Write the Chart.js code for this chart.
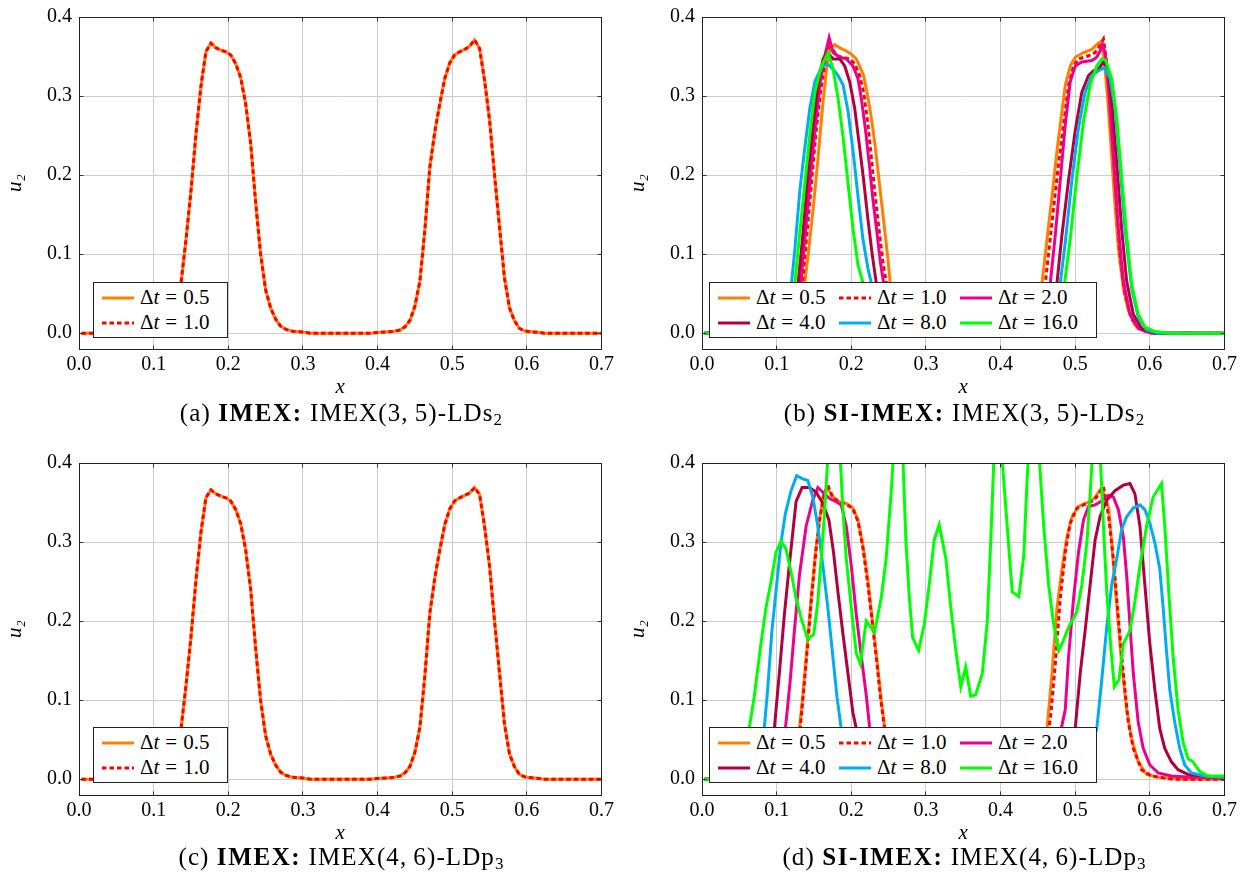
<!DOCTYPE html>
<html>
<head>
<meta charset="utf-8">
<script src="https://cdn.jsdelivr.net/npm/chart.js@4.4.1/dist/chart.umd.min.js"></script>
<style>
  html, body { margin: 0; padding: 0; background: #fff; }
  body { width: 1257px; height: 888px; position: relative; overflow: hidden; font-family: "Liberation Serif", "DejaVu Serif", serif; color: #000; }
  .panel { position: absolute; width: 620px; height: 400px; }
  .panel canvas { position: absolute; left: 0; top: 0; }
  .legend { position: absolute; background: #fff; border: 1px solid #222; padding: 2px 10px 2px 8px; display: grid; row-gap: 0; column-gap: 5px; }
  .entry { display: flex; align-items: center; height: 25px; }
  .entry svg { width: 32px; height: 6px; flex: none; }
  .entry span { margin-left: 6px; font-size: 21px; white-space: nowrap; }
  .entry .eq { margin: 0 6px; }
  .caption { position: absolute; width: 525px; text-align: center; font-size: 25px; letter-spacing: 1.1px; white-space: nowrap; line-height: 30px; }
  .caption b { letter-spacing: 1.6px; }
  .caption sub { font-size: 17px; vertical-align: -4px; line-height: 0; }
</style>
</head>
<body>
<div class="panel" id="pa" style="left:0px;top:0px"><canvas id="ca" width="620" height="400"></canvas></div>
<div class="panel" id="pb" style="left:623px;top:0px"><canvas id="cb" width="620" height="400"></canvas></div>
<div class="panel" id="pc" style="left:0px;top:446px"><canvas id="cc" width="620" height="400"></canvas></div>
<div class="panel" id="pd" style="left:623px;top:446px"><canvas id="cd" width="620" height="400"></canvas></div>

<div class="caption" style="left:79px;top:398px">(a) <b>IMEX:</b> IMEX(3,&thinsp;5)-LDs<sub>2</sub></div>
<div class="caption" style="left:702px;top:398px">(b) <b>SI-IMEX:</b> IMEX(3,&thinsp;5)-LDs<sub>2</sub></div>
<div class="caption" style="left:79px;top:842px">(c) <b>IMEX:</b> IMEX(4,&thinsp;6)-LDp<sub>3</sub></div>
<div class="caption" style="left:702px;top:842px">(d) <b>SI-IMEX:</b> IMEX(4,&thinsp;6)-LDp<sub>3</sub></div>

<script>
// ---------- tick values ----------
const xTickValues = [0, 0.1, 0.2, 0.3, 0.4, 0.5, 0.6, 0.7];
const yTickValues = [0, 0.1, 0.2, 0.3, 0.4];

// ---------- (a) IMEX, IMEX(3,5)-LDs2 : [x, u2] ----------
const a_dt05 = [[0.0033,0],[0.09,0],[0.1033,0.001],[0.11,0.002],[0.1167,0.006],[0.1233,0.015],[0.13,0.035],[0.1367,0.064],[0.1433,0.118],[0.15,0.18],[0.1567,0.252],[0.1633,0.312],[0.17,0.356],[0.1767,0.367],[0.1833,0.361],[0.19,0.358],[0.1967,0.356],[0.2033,0.352],[0.21,0.341],[0.2167,0.323],[0.2233,0.29],[0.23,0.24],[0.2367,0.165],[0.2433,0.10],[0.25,0.055],[0.2567,0.032],[0.2633,0.018],[0.27,0.009],[0.2767,0.005],[0.2833,0.003],[0.29,0.002],[0.3,0.0015],[0.31,0],[0.39,0],[0.4,0.001],[0.42,0.002],[0.43,0.004],[0.4367,0.008],[0.4433,0.016],[0.45,0.034],[0.4567,0.066],[0.4633,0.13],[0.47,0.21],[0.4767,0.255],[0.4833,0.29],[0.49,0.322],[0.4967,0.342],[0.5033,0.352],[0.51,0.356],[0.5167,0.359],[0.5233,0.363],[0.53,0.371],[0.5367,0.36],[0.5433,0.32],[0.55,0.27],[0.5567,0.2],[0.5633,0.135],[0.57,0.07],[0.5767,0.032],[0.5833,0.016],[0.59,0.006],[0.5967,0.003],[0.6033,0.002],[0.6167,0.001],[0.6233,0],[0.7033,0]];
const a_dt10 = [[0.0033,0],[0.09,0],[0.1033,0.001],[0.11,0.002],[0.1167,0.006],[0.1233,0.015],[0.13,0.035],[0.1367,0.064],[0.1433,0.118],[0.15,0.18],[0.1567,0.252],[0.1633,0.312],[0.17,0.356],[0.1767,0.367],[0.1833,0.361],[0.19,0.358],[0.1967,0.356],[0.2033,0.352],[0.21,0.341],[0.2167,0.323],[0.2233,0.29],[0.23,0.24],[0.2367,0.165],[0.2433,0.10],[0.25,0.055],[0.2567,0.032],[0.2633,0.018],[0.27,0.009],[0.2767,0.005],[0.2833,0.003],[0.29,0.002],[0.3,0.0015],[0.31,0],[0.39,0],[0.4,0.001],[0.42,0.002],[0.43,0.004],[0.4367,0.008],[0.4433,0.016],[0.45,0.034],[0.4567,0.066],[0.4633,0.13],[0.47,0.21],[0.4767,0.255],[0.4833,0.29],[0.49,0.322],[0.4967,0.342],[0.5033,0.352],[0.51,0.356],[0.5167,0.359],[0.5233,0.363],[0.53,0.371],[0.5367,0.36],[0.5433,0.32],[0.55,0.27],[0.5567,0.2],[0.5633,0.135],[0.57,0.07],[0.5767,0.032],[0.5833,0.016],[0.59,0.006],[0.5967,0.003],[0.6033,0.002],[0.6167,0.001],[0.6233,0],[0.7033,0]];

// ---------- (c) IMEX, IMEX(4,6)-LDp3 ----------
const c_dt05 = [[0.0033,0],[0.09,0],[0.1033,0.001],[0.11,0.002],[0.1167,0.006],[0.1233,0.015],[0.13,0.035],[0.1367,0.064],[0.1433,0.118],[0.15,0.18],[0.1567,0.252],[0.1633,0.312],[0.17,0.356],[0.1767,0.366],[0.1833,0.361],[0.19,0.358],[0.1967,0.356],[0.2033,0.352],[0.21,0.341],[0.2167,0.323],[0.2233,0.29],[0.23,0.24],[0.2367,0.165],[0.2433,0.10],[0.25,0.055],[0.2567,0.032],[0.2633,0.018],[0.27,0.009],[0.2767,0.005],[0.2833,0.003],[0.29,0.002],[0.3,0.0015],[0.31,0],[0.39,0],[0.4,0.001],[0.42,0.002],[0.43,0.004],[0.4367,0.008],[0.4433,0.016],[0.45,0.034],[0.4567,0.066],[0.4633,0.13],[0.47,0.21],[0.4767,0.255],[0.4833,0.29],[0.49,0.322],[0.4967,0.342],[0.5033,0.352],[0.51,0.356],[0.5167,0.359],[0.5233,0.362],[0.53,0.369],[0.5367,0.36],[0.5433,0.32],[0.55,0.27],[0.5567,0.2],[0.5633,0.135],[0.57,0.07],[0.5767,0.032],[0.5833,0.016],[0.59,0.006],[0.5967,0.003],[0.6033,0.002],[0.6167,0.001],[0.6233,0],[0.7033,0]];
const c_dt10 = [[0.0033,0],[0.09,0],[0.1033,0.001],[0.11,0.002],[0.1167,0.006],[0.1233,0.015],[0.13,0.035],[0.1367,0.064],[0.1433,0.118],[0.15,0.18],[0.1567,0.252],[0.1633,0.312],[0.17,0.356],[0.1767,0.366],[0.1833,0.361],[0.19,0.358],[0.1967,0.356],[0.2033,0.352],[0.21,0.341],[0.2167,0.323],[0.2233,0.29],[0.23,0.24],[0.2367,0.165],[0.2433,0.10],[0.25,0.055],[0.2567,0.032],[0.2633,0.018],[0.27,0.009],[0.2767,0.005],[0.2833,0.003],[0.29,0.002],[0.3,0.0015],[0.31,0],[0.39,0],[0.4,0.001],[0.42,0.002],[0.43,0.004],[0.4367,0.008],[0.4433,0.016],[0.45,0.034],[0.4567,0.066],[0.4633,0.13],[0.47,0.21],[0.4767,0.255],[0.4833,0.29],[0.49,0.322],[0.4967,0.342],[0.5033,0.352],[0.51,0.356],[0.5167,0.359],[0.5233,0.362],[0.53,0.369],[0.5367,0.36],[0.5433,0.32],[0.55,0.27],[0.5567,0.2],[0.5633,0.135],[0.57,0.07],[0.5767,0.032],[0.5833,0.016],[0.59,0.006],[0.5967,0.003],[0.6033,0.002],[0.6167,0.001],[0.6233,0],[0.7033,0]];

// ---------- (b) SI-IMEX, IMEX(3,5)-LDs2 ----------
const b_dt05 = [[0.0033,0],[0.09,0],[0.105,0.001],[0.1133,0.004],[0.12,0.01],[0.1267,0.022],[0.1333,0.042],[0.1378,0.064],[0.1422,0.099],[0.1489,0.157],[0.1556,0.223],[0.1614,0.285],[0.1658,0.326],[0.169,0.351],[0.1733,0.362],[0.1778,0.365],[0.1845,0.361],[0.1934,0.357],[0.2,0.353],[0.2067,0.347],[0.2112,0.338],[0.2165,0.326],[0.221,0.305],[0.2254,0.281],[0.2312,0.243],[0.2357,0.206],[0.2401,0.169],[0.2446,0.132],[0.249,0.095],[0.2521,0.064],[0.2567,0.035],[0.2633,0.015],[0.27,0.006],[0.28,0.002],[0.29,0],[0.42,0],[0.43,0.002],[0.44,0.01],[0.4467,0.022],[0.4511,0.04],[0.4556,0.064],[0.4622,0.119],[0.4689,0.173],[0.4756,0.231],[0.4822,0.281],[0.4867,0.314],[0.4933,0.338],[0.5,0.349],[0.5111,0.355],[0.5222,0.359],[0.5311,0.367],[0.5356,0.369],[0.54,0.334],[0.5444,0.285],[0.5489,0.223],[0.5533,0.161],[0.5578,0.107],[0.5644,0.057],[0.5711,0.029],[0.58,0.01],[0.5933,0.002],[0.6111,0],[0.64,0],[0.65,0.001],[0.66,0],[0.7033,0]];
const b_dt10 = [[0.0033,0],[0.09,0],[0.105,0.001],[0.1133,0.004],[0.12,0.011],[0.1267,0.025],[0.1347,0.064],[0.14,0.12],[0.1467,0.19],[0.1525,0.252],[0.1587,0.305],[0.1645,0.343],[0.169,0.359],[0.1712,0.367],[0.18,0.351],[0.189,0.349],[0.1979,0.347],[0.2045,0.341],[0.2112,0.326],[0.2165,0.305],[0.2223,0.264],[0.2268,0.223],[0.2312,0.181],[0.237,0.132],[0.2423,0.091],[0.2468,0.064],[0.2533,0.03],[0.26,0.012],[0.27,0.004],[0.28,0.001],[0.29,0],[0.42,0],[0.43,0.002],[0.44,0.008],[0.4467,0.018],[0.4533,0.036],[0.46,0.064],[0.4689,0.14],[0.4778,0.215],[0.4844,0.264],[0.4911,0.314],[0.4978,0.338],[0.5044,0.347],[0.5178,0.351],[0.5267,0.355],[0.5311,0.361],[0.5378,0.372],[0.5422,0.343],[0.5489,0.264],[0.5542,0.181],[0.56,0.099],[0.5667,0.049],[0.5756,0.018],[0.5889,0.004],[0.6067,0],[0.7033,0]];
const b_dt20 = [[0.0033,0],[0.09,0],[0.1033,0.001],[0.11,0.004],[0.1167,0.01],[0.1233,0.024],[0.1325,0.064],[0.1378,0.12],[0.1445,0.19],[0.1512,0.256],[0.1578,0.314],[0.1645,0.351],[0.1703,0.374],[0.1756,0.355],[0.1845,0.349],[0.1934,0.347],[0.2023,0.338],[0.209,0.322],[0.2134,0.297],[0.2192,0.256],[0.2245,0.21],[0.229,0.169],[0.2343,0.128],[0.2388,0.091],[0.2432,0.064],[0.25,0.03],[0.2567,0.012],[0.2667,0.004],[0.28,0],[0.42,0],[0.4333,0.002],[0.4433,0.008],[0.45,0.018],[0.4567,0.032],[0.4667,0.064],[0.4733,0.124],[0.48,0.194],[0.4867,0.264],[0.4933,0.318],[0.5,0.338],[0.5089,0.343],[0.5222,0.345],[0.5289,0.349],[0.5333,0.357],[0.5364,0.365],[0.54,0.355],[0.5444,0.314],[0.5511,0.223],[0.5578,0.132],[0.5644,0.066],[0.5733,0.024],[0.5844,0.006],[0.6022,0],[0.7033,0]];
const b_dt40 = [[0.0033,0],[0.085,0],[0.1,0.001],[0.1067,0.004],[0.1133,0.01],[0.12,0.025],[0.1289,0.064],[0.1347,0.12],[0.1414,0.194],[0.1489,0.264],[0.1565,0.322],[0.1623,0.347],[0.1676,0.355],[0.1756,0.347],[0.1845,0.347],[0.1912,0.338],[0.1979,0.318],[0.2045,0.285],[0.2112,0.235],[0.2165,0.194],[0.2223,0.144],[0.2281,0.099],[0.2334,0.064],[0.24,0.03],[0.2467,0.012],[0.2567,0.004],[0.27,0],[0.43,0],[0.4433,0.002],[0.4533,0.008],[0.46,0.018],[0.4667,0.032],[0.4756,0.064],[0.4822,0.124],[0.4911,0.194],[0.5,0.256],[0.5089,0.305],[0.5178,0.326],[0.5244,0.332],[0.5311,0.334],[0.5378,0.343],[0.5436,0.334],[0.5489,0.293],[0.5556,0.215],[0.5622,0.132],[0.5689,0.066],[0.5778,0.024],[0.5889,0.006],[0.6067,0],[0.7033,0]];
const b_dt80 = [[0.0033,0],[0.08,0],[0.0933,0.001],[0.1,0.005],[0.1067,0.012],[0.1133,0.027],[0.12,0.064],[0.1245,0.107],[0.1311,0.181],[0.1378,0.235],[0.1445,0.285],[0.1512,0.318],[0.16,0.336],[0.1676,0.341],[0.1756,0.334],[0.1823,0.326],[0.189,0.314],[0.1956,0.281],[0.2023,0.231],[0.209,0.173],[0.2156,0.119],[0.2223,0.082],[0.2268,0.064],[0.2333,0.035],[0.24,0.015],[0.25,0.005],[0.2633,0],[0.43,0],[0.4467,0.002],[0.4567,0.008],[0.4633,0.018],[0.47,0.033],[0.48,0.064],[0.4867,0.115],[0.4956,0.194],[0.5044,0.26],[0.5133,0.305],[0.5222,0.326],[0.5311,0.332],[0.5391,0.336],[0.5467,0.322],[0.5533,0.285],[0.56,0.21],[0.5667,0.132],[0.5756,0.057],[0.5844,0.02],[0.5956,0.004],[0.6111,0],[0.7033,0]];
const b_dt160 = [[0.0033,0],[0.085,0],[0.0967,0.002],[0.1033,0.007],[0.11,0.016],[0.1167,0.032],[0.1245,0.064],[0.1303,0.12],[0.1378,0.19],[0.1445,0.252],[0.1512,0.305],[0.16,0.338],[0.1689,0.355],[0.1756,0.334],[0.1823,0.297],[0.189,0.248],[0.1956,0.19],[0.2023,0.132],[0.209,0.086],[0.2156,0.064],[0.2233,0.035],[0.23,0.015],[0.24,0.005],[0.2533,0],[0.44,0],[0.4533,0.002],[0.4633,0.008],[0.47,0.018],[0.4767,0.033],[0.4858,0.064],[0.4933,0.119],[0.5022,0.198],[0.5111,0.268],[0.52,0.314],[0.5289,0.338],[0.5356,0.347],[0.5409,0.345],[0.5489,0.322],[0.5556,0.272],[0.5622,0.198],[0.5689,0.124],[0.5756,0.062],[0.5844,0.024],[0.5933,0.008],[0.6067,0.002],[0.6289,0],[0.7033,0]];

// ---------- (d) SI-IMEX, IMEX(4,6)-LDp3 ----------
const d_dt05 = [[0.0033,0],[0.08,0],[0.1,0.002],[0.1133,0.01],[0.12,0.02],[0.1267,0.04],[0.1305,0.064],[0.135,0.105],[0.1404,0.163],[0.1462,0.229],[0.152,0.287],[0.1574,0.328],[0.1628,0.361],[0.1675,0.369],[0.1753,0.357],[0.1843,0.351],[0.1933,0.349],[0.2022,0.343],[0.209,0.328],[0.2157,0.295],[0.2224,0.25],[0.2291,0.195],[0.2345,0.15],[0.2395,0.105],[0.2444,0.068],[0.25,0.04],[0.2567,0.018],[0.2633,0.007],[0.2733,0.002],[0.29,0],[0.41,0],[0.43,0.002],[0.44,0.006],[0.4467,0.014],[0.4533,0.03],[0.4622,0.064],[0.4689,0.134],[0.4756,0.217],[0.4822,0.266],[0.4889,0.307],[0.4956,0.332],[0.5044,0.345],[0.5133,0.349],[0.52,0.351],[0.5267,0.357],[0.5356,0.369],[0.5444,0.345],[0.5489,0.299],[0.5533,0.246],[0.5578,0.196],[0.5622,0.146],[0.5689,0.088],[0.5756,0.051],[0.5844,0.022],[0.5956,0.006],[0.6111,0.0025],[0.6467,0],[0.7033,0]];
const d_dt10 = [[0.0033,0],[0.08,0],[0.1,0.002],[0.1133,0.01],[0.12,0.02],[0.1267,0.038],[0.1315,0.064],[0.136,0.11],[0.1414,0.168],[0.147,0.232],[0.1527,0.289],[0.158,0.33],[0.163,0.358],[0.1686,0.372],[0.1753,0.356],[0.1843,0.35],[0.1933,0.348],[0.2022,0.342],[0.209,0.326],[0.2157,0.292],[0.2224,0.245],[0.2291,0.19],[0.2345,0.145],[0.2395,0.1],[0.2444,0.066],[0.25,0.037],[0.2567,0.016],[0.2633,0.006],[0.2733,0.002],[0.29,0],[0.41,0],[0.43,0.002],[0.44,0.005],[0.4467,0.012],[0.4533,0.026],[0.46,0.045],[0.4667,0.075],[0.4733,0.146],[0.48,0.229],[0.4867,0.287],[0.4933,0.324],[0.5022,0.343],[0.5133,0.348],[0.52,0.35],[0.5278,0.356],[0.5378,0.37],[0.5444,0.335],[0.5511,0.279],[0.5578,0.204],[0.5644,0.134],[0.5711,0.072],[0.5778,0.039],[0.5889,0.012],[0.6022,0.004],[0.63,0],[0.7033,0]];
const d_dt20 = [[0.0033,0],[0.07,0],[0.085,0.003],[0.0933,0.01],[0.1,0.02],[0.1067,0.038],[0.1117,0.064],[0.1179,0.122],[0.1238,0.188],[0.1305,0.258],[0.1395,0.32],[0.1484,0.353],[0.1552,0.369],[0.1619,0.363],[0.1709,0.355],[0.1798,0.351],[0.1865,0.347],[0.1933,0.32],[0.2,0.27],[0.2067,0.208],[0.2135,0.155],[0.2202,0.105],[0.2247,0.064],[0.23,0.035],[0.2367,0.015],[0.2433,0.006],[0.2533,0.002],[0.27,0],[0.43,0],[0.45,0.002],[0.46,0.006],[0.4667,0.014],[0.4733,0.028],[0.4813,0.064],[0.4867,0.088],[0.4911,0.155],[0.4978,0.229],[0.5044,0.287],[0.5111,0.328],[0.5178,0.345],[0.5267,0.347],[0.5356,0.352],[0.5444,0.359],[0.5511,0.357],[0.5578,0.341],[0.5644,0.307],[0.5689,0.258],[0.5733,0.196],[0.5778,0.134],[0.5844,0.072],[0.5911,0.039],[0.6,0.018],[0.6111,0.008],[0.6289,0.004],[0.6556,0.0025],[0.7033,0.001]];
const d_dt40 = [[0.0033,0],[0.06,0],[0.075,0.003],[0.0833,0.01],[0.09,0.025],[0.0969,0.064],[0.1036,0.134],[0.1103,0.208],[0.1179,0.279],[0.126,0.351],[0.1341,0.369],[0.1439,0.369],[0.1529,0.363],[0.1619,0.349],[0.17,0.328],[0.1762,0.287],[0.1821,0.237],[0.1888,0.184],[0.1955,0.134],[0.2022,0.084],[0.2067,0.064],[0.2133,0.035],[0.22,0.015],[0.23,0.005],[0.245,0],[0.44,0],[0.46,0.002],[0.47,0.006],[0.48,0.014],[0.4867,0.025],[0.4933,0.04],[0.5,0.064],[0.5067,0.134],[0.5133,0.188],[0.52,0.246],[0.5267,0.303],[0.5333,0.332],[0.5422,0.353],[0.5533,0.365],[0.5644,0.372],[0.5733,0.374],[0.58,0.361],[0.5867,0.32],[0.5933,0.246],[0.6,0.171],[0.6067,0.113],[0.6133,0.064],[0.62,0.039],[0.6289,0.022],[0.6378,0.012],[0.6511,0.006],[0.6733,0.004],[0.7033,0.002]];
const d_dt80 = [[0.0033,0],[0.05,0],[0.065,0.004],[0.0733,0.015],[0.08,0.038],[0.0834,0.064],[0.0879,0.113],[0.0937,0.188],[0.1,0.246],[0.1058,0.299],[0.1117,0.336],[0.1193,0.365],[0.1269,0.384],[0.135,0.38],[0.1417,0.378],[0.1484,0.357],[0.1552,0.32],[0.1619,0.27],[0.1686,0.217],[0.1753,0.155],[0.1807,0.105],[0.1865,0.064],[0.1933,0.035],[0.2,0.015],[0.21,0.005],[0.225,0],[0.45,0],[0.47,0.002],[0.4867,0.006],[0.5,0.012],[0.51,0.022],[0.52,0.04],[0.5289,0.064],[0.5356,0.126],[0.5422,0.192],[0.5489,0.246],[0.5556,0.279],[0.5622,0.316],[0.5689,0.332],[0.5778,0.343],[0.5867,0.347],[0.5933,0.341],[0.6,0.324],[0.6067,0.299],[0.6133,0.266],[0.6178,0.217],[0.6222,0.163],[0.6267,0.113],[0.6333,0.072],[0.64,0.039],[0.6467,0.018],[0.6556,0.008],[0.6733,0.004],[0.7033,0.002]];
const d_dt160 = [[0.0033,0],[0.03,0],[0.04,0.005],[0.05,0.018],[0.0567,0.035],[0.0632,0.064],[0.07,0.105],[0.0789,0.171],[0.0857,0.217],[0.0925,0.25],[0.0991,0.287],[0.1058,0.301],[0.1126,0.291],[0.1193,0.262],[0.126,0.229],[0.1327,0.204],[0.1417,0.177],[0.1498,0.184],[0.1552,0.225],[0.1596,0.279],[0.1641,0.336],[0.17,0.43],[0.1767,0.46],[0.1833,0.44],[0.1888,0.341],[0.1933,0.279],[0.2,0.217],[0.2067,0.159],[0.2121,0.146],[0.22,0.2],[0.2311,0.186],[0.24,0.229],[0.2467,0.279],[0.2533,0.361],[0.26,0.46],[0.2667,0.47],[0.2733,0.299],[0.2778,0.229],[0.2822,0.179],[0.2902,0.163],[0.2978,0.196],[0.3044,0.246],[0.3111,0.303],[0.3178,0.322],[0.3267,0.279],[0.3333,0.217],[0.34,0.163],[0.3467,0.117],[0.3533,0.142],[0.36,0.105],[0.3667,0.107],[0.3756,0.134],[0.3822,0.2],[0.3867,0.299],[0.3933,0.46],[0.4,0.43],[0.4156,0.237],[0.4244,0.231],[0.4311,0.283],[0.4356,0.38],[0.4422,0.5],[0.4467,0.48],[0.4578,0.32],[0.4644,0.2455],[0.4711,0.196],[0.4778,0.163],[0.4822,0.171],[0.4911,0.192],[0.5022,0.212],[0.5089,0.246],[0.5156,0.299],[0.52,0.361],[0.5267,0.47],[0.5311,0.46],[0.5378,0.32],[0.5422,0.237],[0.548,0.163],[0.5524,0.117],[0.5587,0.126],[0.5644,0.171],[0.5733,0.188],[0.58,0.225],[0.5867,0.27],[0.5956,0.32],[0.6044,0.357],[0.6156,0.374],[0.62,0.32],[0.6253,0.237],[0.6311,0.155],[0.6378,0.088],[0.6444,0.047],[0.6511,0.026],[0.6578,0.022],[0.6667,0.01],[0.6778,0.004],[0.7033,0.004]];

// ---------- styles ----------
const FONT = '"Liberation Serif", "DejaVu Serif", serif';
const STYLE = {
  '0.5':  { color: '#FF8000', dash: [] },
  '1.0':  { color: '#FF0000', dash: [4.5, 3] },
  '2.0':  { color: '#EC008C', dash: [] },
  '4.0':  { color: '#B2003C', dash: [] },
  '8.0':  { color: '#00AEEF', dash: [] },
  '16.0': { color: '#00FF00', dash: [] }
};

// inner frame + pgfplots-like inward ticks
const framePlugin = {
  id: 'frame',
  afterDraw(chart) {
    const { ctx, chartArea: a, scales } = chart;
    const L = Math.floor(a.left) + 0.5, R = Math.floor(a.right) + 0.5;
    const T = Math.floor(a.top) + 0.5, B = Math.floor(a.bottom) + 0.5;
    ctx.save();
    ctx.strokeStyle = '#333';
    ctx.lineWidth = 1;
    ctx.beginPath();
    xTickValues.forEach(v => {
      const px = Math.floor(scales.x.getPixelForValue(v)) + 0.5;
      ctx.moveTo(px, B); ctx.lineTo(px, B - 4);
      ctx.moveTo(px, T); ctx.lineTo(px, T + 4);
    });
    yTickValues.forEach(v => {
      const py = Math.floor(scales.y.getPixelForValue(v)) + 0.5;
      ctx.moveTo(L, py); ctx.lineTo(L + 4, py);
      ctx.moveTo(R, py); ctx.lineTo(R - 4, py);
    });
    ctx.stroke();
    ctx.strokeStyle = '#222';
    ctx.strokeRect(L, T, R - L, B - T);
    ctx.restore();
  }
};

function makePanel(canvasId, panelId, series, legendCols, legendLeft, legendTop) {
  const n = series.length;
  const datasets = series.map((s, i) => ({
    label: '\u0394t = ' + s.dt,
    data: s.pts.map(p => ({ x: p[0], y: p[1] })),
    borderColor: STYLE[s.dt].color,
    borderDash: STYLE[s.dt].dash,
    borderWidth: 3,
    pointRadius: 0,
    fill: false,
    tension: 0,
    clip: 0,
    order: n - i   // later series drawn on top, as in the original
  }));
  const chart = new Chart(document.getElementById(canvasId), {
    type: 'line',
    data: { datasets },
    plugins: [framePlugin],
    options: {
      responsive: false,
      animation: false,
      events: [],
      layout: { padding: { top: 11, right: 16, left: 0, bottom: 0 } },
      plugins: { legend: { display: false }, tooltip: { enabled: false } },
      scales: {
        x: {
          type: 'linear', min: 0, max: 0.7,
          afterBuildTicks: sc => { sc.ticks = xTickValues.map(v => ({ value: v })); },
          afterFit: sc => { sc.height = 51; },
          ticks: { font: { family: FONT, size: 20, lineHeight: 1 }, color: '#000', padding: 6, maxRotation: 0, autoSkip: false, callback: v => Number(v).toFixed(1) },
          grid: { color: '#cccccc', lineWidth: 1, drawTicks: false },
          border: { color: '#222', width: 1 },
          title: { display: true, text: 'x', color: '#000', font: { family: FONT, size: 21, style: 'italic', lineHeight: 1.2 }, padding: { top: 0, bottom: 0 } }
        },
        y: {
          type: 'linear', min: -0.02, max: 0.4,
          afterBuildTicks: sc => { sc.ticks = yTickValues.map(v => ({ value: v })); },
          afterFit: sc => { sc.width = 79; },
          ticks: { font: { family: FONT, size: 20, lineHeight: 1 }, color: '#000', padding: 7, autoSkip: false, callback: v => Number(v).toFixed(1) },
          grid: { color: '#cccccc', lineWidth: 1, drawTicks: false },
          border: { color: '#222', width: 1 },
          title: { display: true, text: 'u\u2082', color: '#000', font: { family: FONT, size: 21, style: 'italic', lineHeight: 1.2 }, padding: { top: 3, bottom: 0 } }
        }
      }
    }
  });

  // legend box inside the plot, built from the chart's datasets
  const box = document.createElement('div');
  box.className = 'legend';
  box.style.left = legendLeft + 'px';
  box.style.top = legendTop + 'px';
  box.style.gridTemplateColumns = legendCols.map(() => 'auto').join(' ');
  chart.data.datasets.forEach((ds, i) => {
    const e = document.createElement('div');
    e.className = 'entry';
    const w = legendCols[i % legendCols.length];
    const dash = ds.borderDash && ds.borderDash.length ? ' stroke-dasharray="' + ds.borderDash.join(' ') + '"' : '';
    e.innerHTML = '<svg viewBox="0 0 32 6"><line x1="0" y1="3" x2="32" y2="3" stroke="' + ds.borderColor + '" stroke-width="3"' + dash + '/></svg>' +
      '<span style="width:' + w + 'px">\u0394<i>t</i><span class="eq">=</span>' + ds.label.split('= ')[1] + '</span>';
    box.appendChild(e);
  });
  document.getElementById(panelId).appendChild(box);
  return chart;
}

makePanel('ca', 'pa', [
  { dt: '0.5', pts: a_dt05 },
  { dt: '1.0', pts: a_dt10 }
], [77], 93, 282);

makePanel('cb', 'pb', [
  { dt: '0.5', pts: b_dt05 },
  { dt: '1.0', pts: b_dt10 },
  { dt: '2.0', pts: b_dt20 },
  { dt: '4.0', pts: b_dt40 },
  { dt: '8.0', pts: b_dt80 },
  { dt: '16.0', pts: b_dt160 }
], [78, 78, 88], 86, 282);

makePanel('cc', 'pc', [
  { dt: '0.5', pts: c_dt05 },
  { dt: '1.0', pts: c_dt10 }
], [77], 93, 281);

makePanel('cd', 'pd', [
  { dt: '0.5', pts: d_dt05 },
  { dt: '1.0', pts: d_dt10 },
  { dt: '2.0', pts: d_dt20 },
  { dt: '4.0', pts: d_dt40 },
  { dt: '8.0', pts: d_dt80 },
  { dt: '16.0', pts: d_dt160 }
], [78, 78, 88], 86, 281);
</script>
</body>
</html>
